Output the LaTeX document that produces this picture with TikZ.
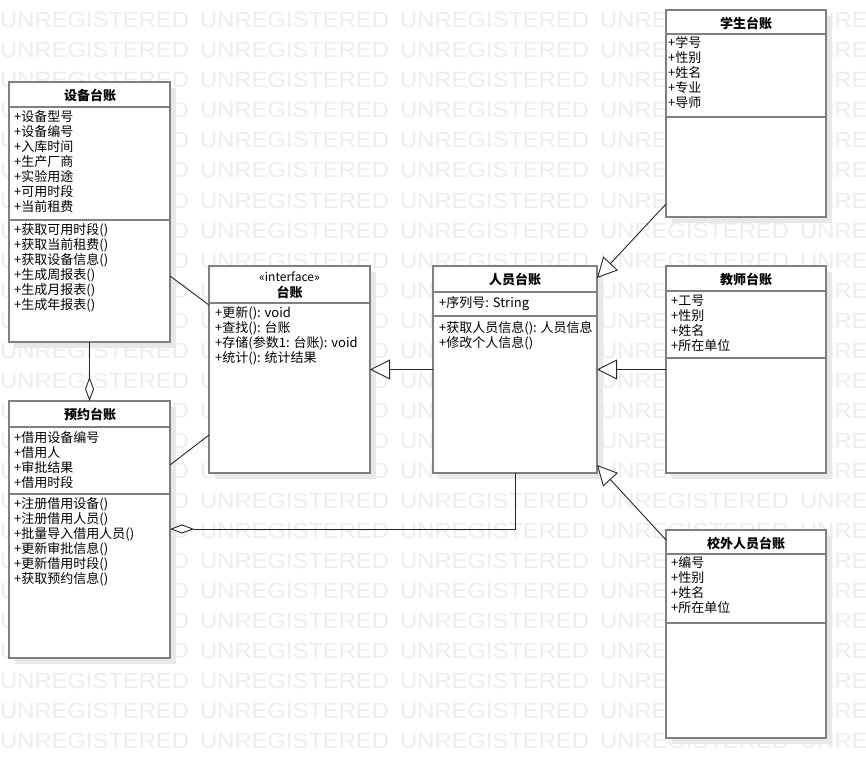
\documentclass[tikz,border=0pt]{standalone}
\usepackage{fontspec}
\setmainfont{Noto Sans CJK SC}
\newfontfamily\wmfont[FakeStretch=1.08]{Liberation Sans}
\usetikzlibrary{arrows.meta,shadows}
\tikzset{
  umlbox/.style={draw=black!50, line width=1.5pt, fill=white, inner sep=0pt, outer sep=0pt, anchor=north west,
    drop shadow={shadow xshift=6pt, shadow yshift=-6pt, fill=black!9, opacity=1}},
  divline/.style={draw=black!50, line width=1.5pt},
  boxtitle/.style={inner sep=0pt, font=\fontsize{13}{15}\selectfont\bfseries},
  stereo/.style={inner sep=0pt, font=\fontsize{12}{15}\selectfont},
  members/.style={anchor=north west, inner sep=0pt, align=left, font=\fontsize{13}{15}\selectfont},
  conn/.style={draw=black!85, line width=0.9pt},
  aggr/.style={-{Diamond[length=24pt,width=9pt,fill=white]}},
  genl/.style={-{Triangle[length=20pt,width=20pt,fill=white]}},
  wm/.style={text=black!7, font=\wmfont\fontsize{22}{22}\selectfont, inner sep=0pt, anchor=base west}
}
\begin{document}
\begin{tikzpicture}[x=1pt,y=-1pt]
\useasboundingbox (0,0) rectangle (866,778);
\fill[white] (0,0) rectangle (866,778);
% watermark
\begin{scope}
\clip (0,0) rectangle (866,778);
\foreach \r in {0,...,24}{
  \foreach \c in {0,...,4}{
    \node[wm] (wm-\r-\c) at (200*\c, 28+30*\r) {UNREGISTERED};
  }
}
\end{scope}

% ---- boxes ----
% 设备台账
\node[umlbox, minimum width=161pt, minimum height=260pt] (sb) at (9,82) {};
\draw[divline] ([yshift=-25pt]sb.north west) -- ([yshift=-25pt]sb.north east);
\draw[divline] ([yshift=-138pt]sb.north west) -- ([yshift=-138pt]sb.north east);
\node[boxtitle] (sb-t) at (90,95) {设备台账};
\node[members] (sb-a) at (14,110) {+设备型号\\+设备编号\\+入库时间\\+生产厂商\\+实验用途\\+可用时段\\+当前租费};
\node[members] (sb-m) at (14,223) {+获取可用时段()\\+获取当前租费()\\+获取设备信息()\\+生成周报表()\\+生成月报表()\\+生成年报表()};

% 预约台账
\node[umlbox, minimum width=161pt, minimum height=257pt] (yy) at (9,401) {};
\draw[divline] ([yshift=-26pt]yy.north west) -- ([yshift=-26pt]yy.north east);
\draw[divline] ([yshift=-93pt]yy.north west) -- ([yshift=-93pt]yy.north east);
\node[boxtitle] (yy-t) at (90,414) {预约台账};
\node[members] (yy-a) at (14,431) {+借用设备编号\\+借用人\\+审批结果\\+借用时段};
\node[members] (yy-m) at (14,497) {+注册借用设备()\\+注册借用人员()\\+批量导入借用人员()\\+更新审批信息()\\+更新借用时段()\\+获取预约信息()};

% 台账 interface
\node[umlbox, minimum width=161pt, minimum height=207pt] (tz) at (209,266) {};
\draw[divline] ([yshift=-37pt]tz.north west) -- ([yshift=-37pt]tz.north east);
\node[stereo] (tz-s) at (289.5,277) {«interface»};
\node[boxtitle] (tz-t) at (289.5,292) {台账};
\node[members] (tz-m) at (215,306) {+更新(): void\\+查找(): 台账\\+存储(参数1: 台账): void\\+统计(): 统计结果};

% 人员台账
\node[umlbox, minimum width=164pt, minimum height=207pt] (ry) at (433,266) {};
\draw[divline] ([yshift=-26pt]ry.north west) -- ([yshift=-26pt]ry.north east);
\draw[divline] ([yshift=-50pt]ry.north west) -- ([yshift=-50pt]ry.north east);
\node[boxtitle] (ry-t) at (515,279) {人员台账};
\node[members] (ry-a) at (439,296) {+序列号: String};
\node[members] (ry-m) at (439,321) {+获取人员信息(): 人员信息\\+修改个人信息()};

% 学生台账
\node[umlbox, minimum width=160pt, minimum height=207pt] (xs) at (666,10) {};
\draw[divline] ([yshift=-24pt]xs.north west) -- ([yshift=-24pt]xs.north east);
\draw[divline] ([yshift=-107pt]xs.north west) -- ([yshift=-107pt]xs.north east);
\node[boxtitle] (xs-t) at (746,23) {学生台账};
\node[members] (xs-a) at (668,36) {+学号\\+性别\\+姓名\\+专业\\+导师};

% 教师台账
\node[umlbox, minimum width=160pt, minimum height=207pt] (js) at (666,266) {};
\draw[divline] ([yshift=-25pt]js.north west) -- ([yshift=-25pt]js.north east);
\draw[divline] ([yshift=-92pt]js.north west) -- ([yshift=-92pt]js.north east);
\node[boxtitle] (js-t) at (746,279) {教师台账};
\node[members] (js-a) at (671,295) {+工号\\+性别\\+姓名\\+所在单位};

% 校外人员台账
\node[umlbox, minimum width=160pt, minimum height=208pt] (xw) at (666,530) {};
\draw[divline] ([yshift=-24pt]xw.north west) -- ([yshift=-24pt]xw.north east);
\draw[divline] ([yshift=-93pt]xw.north west) -- ([yshift=-93pt]xw.north east);
\node[boxtitle] (xw-t) at (746,543) {校外人员台账};
\node[members] (xw-a) at (671,556) {+编号\\+性别\\+姓名\\+所在单位};

% ---- connectors ----
\draw[conn] ([yshift=-194pt]sb.north east) -- ([yshift=-39pt]tz.north west);
\draw[conn] ([yshift=-64pt]yy.north east) -- ([yshift=38pt]tz.south west);
\draw[conn, aggr] (sb.south) -- (yy.north);
\draw[conn, aggr] (ry.south) |- ([yshift=-128pt]yy.north east);
\draw[conn, genl] (ry.west) -- (tz.east);
\draw[conn, genl] ([yshift=13pt]xs.south west) -- ([yshift=-12pt]ry.north east);
\draw[conn, genl] (js.west) -- (ry.east);
\draw[conn, genl] ([yshift=-10pt]xw.north west) -- ([yshift=8pt]ry.south east);
\end{tikzpicture}
\end{document}
